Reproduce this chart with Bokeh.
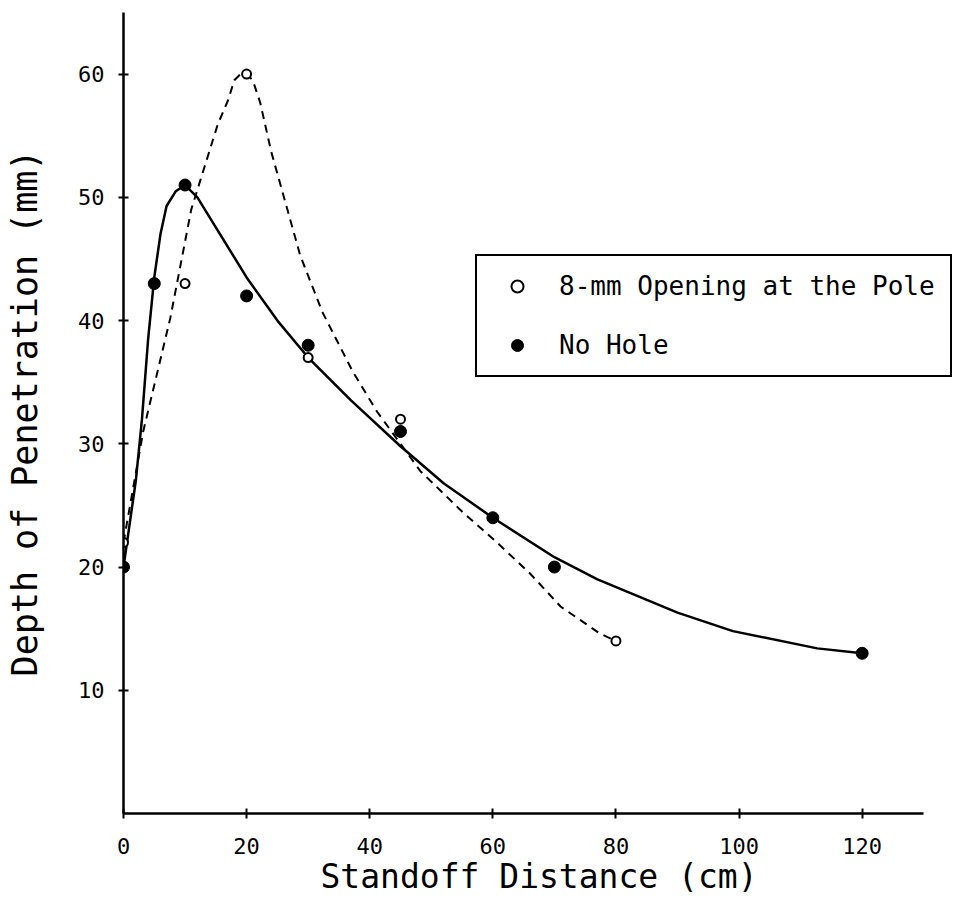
from bokeh.plotting import figure
from bokeh.models import Legend, LegendItem
from bokeh.embed import file_html
from bokeh.resources import INLINE

# Measured points
hole_x = [0, 10, 20, 30, 45, 80]
hole_y = [22, 43, 60, 37, 32, 14]
solid_x = [0, 5, 10, 20, 30, 45, 60, 70, 120]
solid_y = [20, 43, 51, 42, 38, 31, 24, 20, 13]

# Fitted curves
fit_solid_x = [0, 1, 2, 3, 4, 5, 6, 7, 8.5, 10, 12, 15.7, 20, 25, 30, 37, 45, 52, 60, 70, 77, 90, 99, 112.7, 120]
fit_solid_y = [20, 23.5, 27, 32, 38.5, 43.5, 47, 49.3, 50.5, 51, 50, 47, 43.5, 40, 37, 33.5, 29.8, 26.8, 24, 20.8, 19, 16.3, 14.8, 13.4, 13]
fit_dash_x = [0, 3.2, 7.6, 11, 15.3, 17, 18, 19, 20, 21, 22.2, 24, 28.7, 32.3, 37.2, 41.2, 45, 48.2, 55, 60, 66, 71, 77.4, 80]
fit_dash_y = [22, 31, 40.2, 49, 55.9, 57.9, 59.5, 60, 60, 59.5, 57.7, 53.7, 45.3, 40.7, 35.9, 32.6, 30, 27.8, 24.5, 22.3, 19.5, 16.8, 14.6, 14]

x_ticks = [0, 20, 40, 60, 80, 100, 120]
y_ticks = [10, 20, 30, 40, 50, 60]

FONT = "DejaVu Sans Mono"

p = figure(frame_width=831, frame_height=801, x_range=(0, 135), y_range=(0, 65),
           output_backend="svg", toolbar_location=None,
           min_border_left=123, min_border_top=12, min_border_right=0, min_border_bottom=96)

p.xgrid.visible = False
p.ygrid.visible = False
p.outline_line_color = None
p.background_fill_color = "white"
p.border_fill_color = "white"

for ax in (p.xaxis[0], p.yaxis[0]):
    ax.axis_line_color = "black"
    ax.axis_line_width = 2.5
    ax.major_tick_line_color = "black"
    ax.major_tick_line_width = 2
    ax.minor_tick_line_color = None
    ax.major_tick_in = 5
    ax.major_tick_out = 5
    ax.major_label_text_font = FONT
    ax.major_label_text_font_size = "22px"
    ax.major_label_text_color = "black"
    ax.axis_label_text_font = FONT
    ax.axis_label_text_font_style = "normal"
    ax.axis_label_text_color = "black"

p.xaxis[0].bounds = (0, 130)
p.xaxis[0].ticker = x_ticks
p.yaxis[0].ticker = y_ticks
p.xaxis[0].axis_label = "Standoff Distance (cm)"
p.yaxis[0].axis_label = "Depth of Penetration (mm)"
p.xaxis[0].axis_label_text_font_size = "33px"
p.yaxis[0].axis_label_text_font_size = "35px"
p.xaxis[0].major_label_standoff = 19
p.yaxis[0].major_label_standoff = 14
p.xaxis[0].axis_label_standoff = 0
p.yaxis[0].axis_label_standoff = 30

p.line(fit_dash_x, fit_dash_y, line_color="black", line_width=2, line_dash="8 6")
p.line(fit_solid_x, fit_solid_y, line_color="black", line_width=2.5)

r_solid = p.scatter(solid_x, solid_y, marker="circle", size=12,
                    fill_color="black", line_color="black")
r_hole = p.scatter(hole_x, hole_y, marker="circle", size=9,
                   fill_color="white", line_color="black", line_width=2)

legend = Legend(items=[LegendItem(label="8-mm Opening at the Pole", renderers=[r_hole]),
                       LegendItem(label="No Hole", renderers=[r_solid])],
                location=(352, 436))
legend.border_line_color = "black"
legend.border_line_width = 2
legend.border_line_alpha = 1
legend.background_fill_color = "white"
legend.background_fill_alpha = 1
legend.label_text_font = FONT
legend.label_text_font_size = "26px"
legend.label_text_color = "black"
legend.glyph_width = 50
legend.glyph_height = 30
legend.label_height = 30
legend.label_standoff = 17
legend.spacing = 29
legend.padding = 15
legend.margin = 0
p.add_layout(legend, "center")

open("out.html", "w").write(file_html(p, INLINE))
